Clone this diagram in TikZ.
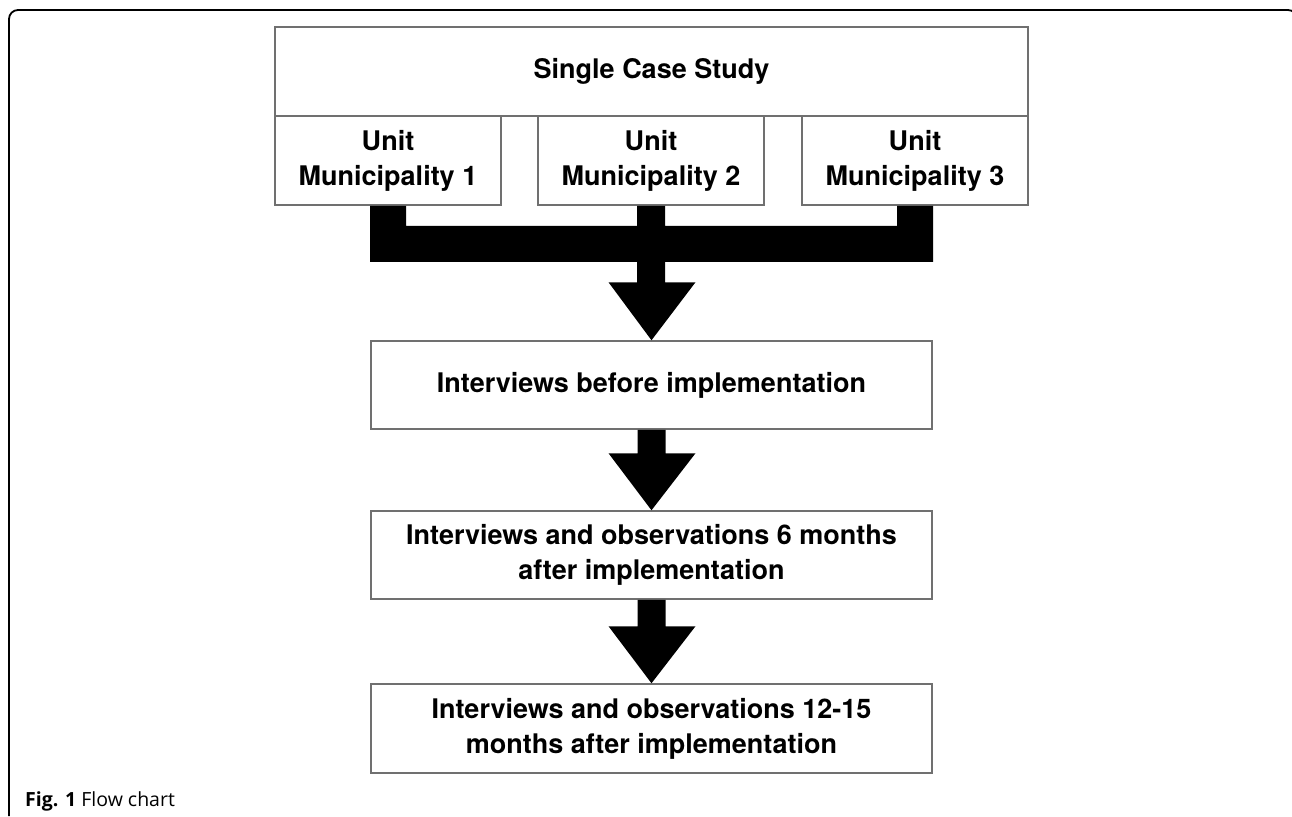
\documentclass[tikz,border=0pt]{standalone}
\usepackage{fontspec}
\setmainfont{TeX Gyre Heros}
\newfontfamily\capfont{Open Sans}
\usetikzlibrary{calc}
\tikzset{
  box/.style={draw=boxgray, line width=1.5pt, fill=white, align=center,
    font=\fontsize{27}{35}\selectfont\bfseries, inner sep=0pt},
  flowfill/.style={fill=black},
}
\definecolor{boxgray}{HTML}{707070}
\begin{document}
\begin{tikzpicture}[x=1pt,y=-1pt]
\useasboundingbox (0,0) rectangle (1292,816);
% frame
\draw[line width=1.8pt, rounded corners=9pt] (9,816) -- (9,10) -- (1297,10) -- (1297,816);
% nodes
\node[box, minimum width=753pt, minimum height=89pt] (top) at (651.5,71.5) {Single Case Study};
\node[box, minimum width=226pt, minimum height=89pt] (u1) at (388,160.5) {Unit\\Municipality 1};
\node[box, minimum width=226pt, minimum height=89pt] (u2) at (651,160.5) {Unit\\Municipality 2};
\node[box, minimum width=226pt, minimum height=89pt] (u3) at (915,160.5) {Unit\\Municipality 3};
\node[box, minimum width=561pt, minimum height=88pt] (b1) at (651.5,385) {Interviews before implementation};
\node[box, minimum width=561pt, minimum height=88pt] (b2) at (651.5,555) {Interviews and observations 6 months\\after implementation};
\node[box, minimum width=561pt, minimum height=89pt] (b3) at (651.5,728.5) {Interviews and observations 12-15\\months after implementation};
% merging arrow
\fill[flowfill] ($(u1.south)+(-18,0)$) -- ++(36,0) |- ($(u2.south)+(-14,20)$) -- ++(0,-20) -- ++(28,0)
  |- ($(u3.south)+(-18,20)$) -- ++(0,-20) -- ++(36,0) |- ($(u2.south)+(14,56)$)
  |- ($(b1.north)+(44,-58)$) -- (b1.north) -- ++(-43,-58) -| ($(u2.south)+(-14,56)$)
  -- ($(u1.south)+(-18,56)$) -- cycle;
% arrow 2
\fill[flowfill] ($(b1.south)+(-14,0)$) -- ($(b1.south)+(14,0)$) |- ($(b2.north)+(44,-57)$)
  -- (b2.north) -- ($(b2.north)+(-43,-57)$) -| ($(b1.south)+(-14,0)$) -- cycle;
% arrow 3
\fill[flowfill] ($(b2.south)+(-14,0)$) -- ($(b2.south)+(14,0)$) |- ($(b3.north)+(44,-57)$)
  -- (b3.north) -- ($(b3.north)+(-43,-57)$) -| ($(b2.south)+(-14,0)$) -- cycle;
% caption
\node[anchor=base west, inner sep=0pt, font=\capfont\fontsize{19.5}{22}\selectfont] (cap) at (25,806) {\textbf{Fig. 1} Flow chart};
\end{tikzpicture}
\end{document}
